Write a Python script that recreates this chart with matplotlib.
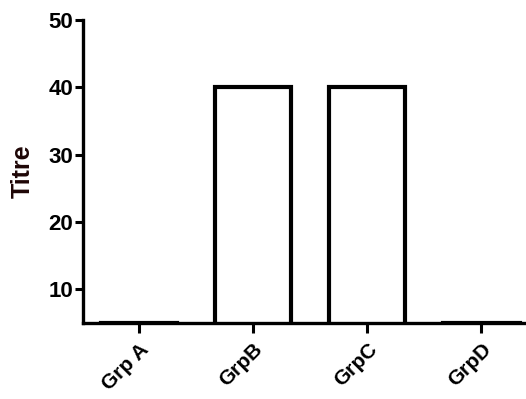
import matplotlib
matplotlib.use('Agg')
from matplotlib import pyplot as plt
import numpy as np

groups = ['Grp A', 'GrpB', 'GrpC', 'GrpD']
titre = [5, 40, 40, 5]
y_ticks = [10, 20, 30, 40, 50]

plt.rcParams['font.family'] = ['Liberation Sans', 'DejaVu Sans']
plt.rcParams['font.weight'] = 'bold'

fig = plt.figure(figsize=(5.26, 3.99), dpi=100)
ax = fig.add_axes([0.158, 0.190, 0.842, 0.760])

x = np.arange(len(groups))
ax.bar(x, titre, width=0.667, facecolor='white', edgecolor='black',
       linewidth=3, joinstyle='miter', zorder=3)

ax.set_xlim(-0.49, 3.39)
ax.set_ylim(5, 50)
ax.set_yticks(y_ticks)
ax.set_xticks(x)
ax.set_xticklabels(groups, rotation=45, ha='right', rotation_mode='anchor',
                   fontsize=15, fontweight='bold')
ax.tick_params(axis='y', labelsize=16, width=2.2, length=6, direction='out', pad=1)
ax.tick_params(axis='x', width=2.2, length=7, direction='out', pad=5)
for lbl in ax.get_yticklabels():
    lbl.set_fontweight('bold')

for s in ['top', 'right']:
    ax.spines[s].set_visible(False)
for s in ['left', 'bottom']:
    ax.spines[s].set_linewidth(2.4)
    ax.spines[s].set_zorder(4)

ax.set_ylabel('Titre', fontsize=18, fontweight='bold', color='#1e0606', labelpad=10)

fig.savefig('out.png', dpi=100)
